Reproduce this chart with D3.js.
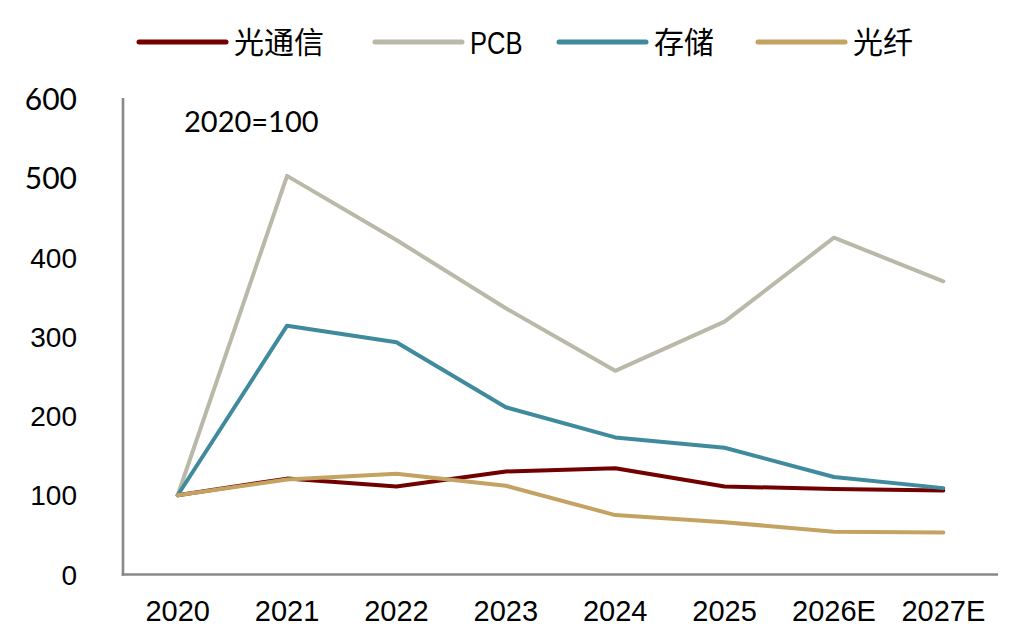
<!DOCTYPE html>
<html><head><meta charset="utf-8">
<script src="https://cdn.jsdelivr.net/npm/d3@7"></script>
<style>body{margin:0;background:#fff}svg{display:block}</style>
</head><body>
<svg id="c" width="1015" height="633"></svg>
<script>
const categories = ["2020","2021","2022","2023","2024","2025","2026E","2027E"];
const seriesNames = ["光通信","PCB","存储","光纤"];
const opticalComm = [100,121,111,130,134,111,108,106];
const pcb = [100,503,422,336,257,319,425,370];
const storage = [100,314,293,211,173,160,123,109];
const fiber = [100,120,127,112,75,66,54,53];
const yTicks = [0,100,200,300,400,500,600];
const colors = ["#720000","#BAB9A9","#3F8B9D","#C4A262"];
const note = "2020=100";

const svg = d3.select("#c");
const x = d3.scaleBand().domain(categories).range([123,998]);
const y = d3.scaleLinear().domain([0,600]).range([574.5,99]);
const allSeries = [opticalComm,pcb,storage,fiber];

// axes lines
svg.append("line").attr("x1",123).attr("x2",123).attr("y1",y(600)-1).attr("y2",y(0)+1.2)
  .attr("stroke","#898989").attr("stroke-width",2.6);
svg.append("line").attr("x1",121.7).attr("x2",998).attr("y1",y(0)).attr("y2",y(0))
  .attr("stroke","#898989").attr("stroke-width",2.6);

// y tick labels
svg.append("g").selectAll("text").data(yTicks).join("text")
  .attr("x",77).attr("y",d=>y(d)).attr("dy","0.36em")
  .attr("text-anchor","end")
  .attr("font-family",d=>d>=500?"Lato, sans-serif":"'Liberation Sans', Arial, sans-serif")
  .attr("font-size",d=>d>=500?30:28)
  .attr("fill","#000").text(d=>d);

// x tick labels
svg.append("g").selectAll("text").data(categories).join("text")
  .attr("x",d=>x(d)+x.bandwidth()/2).attr("y",621)
  .attr("text-anchor","middle")
  .attr("font-family","'Liberation Sans', Arial, sans-serif").attr("font-size",29)
  .attr("fill","#000").text(d=>d);

// lines (drawn in series order)
const line = d3.line().x((d,i)=>x(categories[i])+x.bandwidth()/2).y(d=>y(d));
allSeries.forEach((s,k)=>{
  svg.append("path").datum(s).attr("d",line)
    .attr("fill","none").attr("stroke",colors[k]).attr("stroke-width",4)
    .attr("stroke-linejoin","round").attr("stroke-linecap","round");
});

// annotation
svg.append("text").attr("x",184).attr("y",132).attr("font-family","Lato, sans-serif")
  .attr("font-size",29).attr("fill","#000").text(note);

// legend
const legX = [139,375,559,758];
const lg = svg.append("g").selectAll("g").data(seriesNames).join("g");
lg.append("line").attr("x1",(d,i)=>legX[i]).attr("x2",(d,i)=>legX[i]+87)
  .attr("y1",42).attr("y2",42).attr("stroke",(d,i)=>colors[i]).attr("stroke-width",5)
  .attr("stroke-linecap","round");
lg.append("text")
  .attr("transform",(d,i)=>`translate(${legX[i]+95},42)` + (d==="PCB"?" scale(0.8,1)":""))
  .attr("dy","0.36em")
  .attr("font-family",d=>d==="PCB"?"'Liberation Sans',Arial,sans-serif":"'Noto Sans CJK SC', sans-serif")
  .attr("font-size",d=>d==="PCB"?32:30).attr("fill","#000").text(d=>d);
</script>
</body></html>
